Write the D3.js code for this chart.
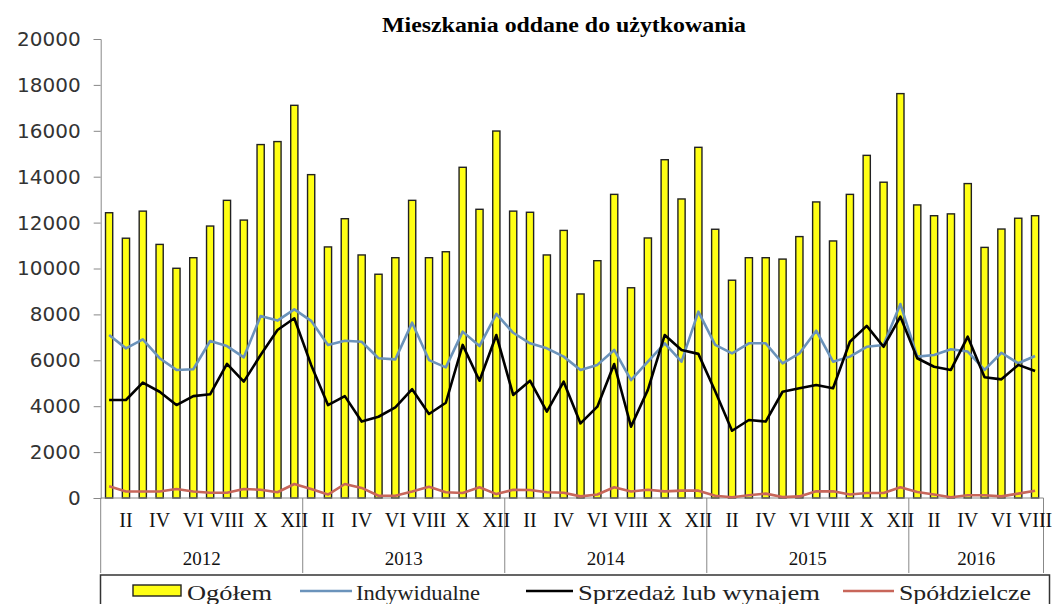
<!DOCTYPE html>
<html>
<head>
<meta charset="utf-8">
<script src="https://cdn.jsdelivr.net/npm/d3@7"></script>
<style>
  body { margin: 0; background: #fff; }
  svg { display: block; }
</style>
</head>
<body>
<div id="chart"></div>
<script>
// Data (monthly, I 2012 - VIII 2016)
const years = ["2012", "2013", "2014", "2015", "2016"];
const monthsPerYear = [12, 12, 12, 12, 8];
const romans = ["I", "II", "III", "IV", "V", "VI", "VII", "VIII", "IX", "X", "XI", "XII"];
const yTicks = [0, 2000, 4000, 6000, 8000, 10000, 12000, 14000, 16000, 18000, 20000];

const ogolem = [
    12430, 11320, 12500, 11050, 10010, 10470, 11850, 12970, 12110, 15400, 15530, 17110,
    14090, 10940, 12170, 10590, 9750, 10470, 12970, 10470, 10730, 14410, 12580, 15990,
    12500, 12450, 10590, 11660, 8890, 10340, 13230, 9160, 11330, 14740, 13030, 15280,
    11710, 9490, 10470, 10470, 10410, 11390, 12900, 11200, 13230, 14930, 13760, 17620,
    12770, 12300, 12380, 13700, 10920, 11720, 12190, 12300
];
const indywidualne = [
    7100, 6520, 6910, 6090, 5580, 5610, 6840, 6620, 6130, 7930, 7730, 8220,
    7720, 6670, 6850, 6810, 6090, 6040, 7640, 6010, 5690, 7250, 6620, 8020,
    7200, 6740, 6520, 6160, 5580, 5800, 6450, 5140, 5940, 6740, 5940, 8120,
    6670, 6300, 6740, 6740, 5870, 6300, 7290, 5940, 6160, 6590, 6670, 8450,
    6160, 6230, 6480, 6380, 5580, 6330, 5870, 6190
];
const sprzedaz = [
    4270, 4270, 5030, 4630, 4050, 4440, 4520, 5840, 5070, 6230, 7320, 7830,
    5800, 4050, 4440, 3330, 3540, 3950, 4740, 3660, 4150, 6670, 5110, 7100,
    4490, 5110, 3760, 5070, 3250, 3980, 5840, 3110, 4710, 7100, 6450, 6280,
    4650, 2930, 3400, 3330, 4630, 4780, 4920, 4780, 6810, 7500, 6590, 7900,
    6090, 5720, 5580, 7030, 5260, 5170, 5800, 5530
];
const spoldzielcze = [
    510, 280, 280, 280, 390, 280, 230, 230, 390, 360, 250, 610,
    390, 150, 610, 440, 100, 100, 280, 490, 250, 220, 470, 170,
    360, 350, 250, 230, 70, 150, 470, 280, 360, 290, 320, 320,
    100, 30, 120, 190, 40, 70, 290, 290, 150, 220, 220, 470,
    260, 150, 30, 120, 120, 70, 190, 320
];

const width = 1053, height = 604;
const margin = {top: 39, right: 9.5, bottom: 106, left: 100.7};

// month table
const months = [];
years.forEach((y, yi) => {
    for (let m = 0; m < monthsPerYear[yi]; m++) {
        months.push({year: y, m: m, label: romans[m]});
    }
});

const svg = d3.select("#chart")
    .append("svg")
    .attr("width", width)
    .attr("height", height);

const xScale = d3.scaleBand()
    .domain(d3.range(months.length))
    .range([margin.left, width - margin.right]);

const yScale = d3.scaleLinear()
    .domain([0, 20000])
    .range([height - margin.bottom, margin.top]);

const y0 = yScale(0);
const bw = xScale.bandwidth();

// Title
svg.append("text")
    .attr("x", 564)
    .attr("y", 32)
    .attr("text-anchor", "middle")
    .attr("font-family", "Liberation Serif, Times New Roman, serif")
    .attr("font-weight", "bold")
    .attr("font-size", 20)
    .attr("textLength", 364)
    .attr("lengthAdjust", "spacingAndGlyphs")
    .text("Mieszkania oddane do użytkowania");

// Y axis
const yAxis = d3.axisLeft(yScale).tickValues(yTicks).tickSize(7).tickPadding(13).tickFormat(d3.format("d"));
const gy = svg.append("g")
    .attr("transform", `translate(${margin.left},0)`)
    .call(yAxis);
gy.select(".domain").attr("stroke", "#888");
gy.selectAll(".tick line").attr("stroke", "#888");
gy.selectAll(".tick text")
    .attr("font-family", "DejaVu Sans, sans-serif")
    .attr("font-size", 20)
    .attr("fill", "#333");

// Bars
svg.append("g")
    .selectAll("rect")
    .data(ogolem)
    .join("rect")
    .attr("x", (d, i) => xScale(i) + bw / 2 - 3.6)
    .attr("width", 7.2)
    .attr("y", d => yScale(d))
    .attr("height", d => y0 - yScale(d))
    .attr("fill", "#ffff14")
    .attr("stroke", "#222")
    .attr("stroke-width", 1.4);

// Category axis
svg.append("line")
    .attr("x1", margin.left).attr("x2", width - margin.right)
    .attr("y1", y0).attr("y2", y0)
    .attr("stroke", "#888");

let start = 0;
const boundaries = [0];
years.forEach((y, yi) => {
    start += monthsPerYear[yi];
    boundaries.push(start);
});
svg.append("g")
    .selectAll("line")
    .data(boundaries)
    .join("line")
    .attr("x1", d => d < months.length ? xScale(d) : xScale.range()[1])
    .attr("x2", d => d < months.length ? xScale(d) : xScale.range()[1])
    .attr("y1", y0)
    .attr("y2", 573)
    .attr("stroke", "#888");

svg.append("g")
    .selectAll("text")
    .data(months.filter(d => d.m % 2 === 1))
    .join("text")
    .attr("x", d => xScale(months.indexOf(d)) + bw / 2)
    .attr("y", 527)
    .attr("text-anchor", "middle")
    .attr("font-family", "Liberation Serif, Times New Roman, serif")
    .attr("font-size", 20)
    .attr("fill", "#111")
    .text(d => d.label);

svg.append("g")
    .selectAll("text")
    .data(years)
    .join("text")
    .attr("x", (d, i) => {
        const a = xScale(boundaries[i]);
        const b = boundaries[i + 1] < months.length ? xScale(boundaries[i + 1]) : xScale.range()[1];
        return (a + b) / 2;
    })
    .attr("y", 565)
    .attr("text-anchor", "middle")
    .attr("font-family", "Liberation Serif, Times New Roman, serif")
    .attr("font-size", 19)
    .attr("fill", "#111")
    .text(d => d);

// Lines
const line = d3.line()
    .x((d, i) => xScale(i) + bw / 2)
    .y(d => yScale(d));

const series = [
    {name: "Indywidualne", values: indywidualne, color: "#6b93bb"},
    {name: "Sprzedaż lub wynajem", values: sprzedaz, color: "#000000"},
    {name: "Spółdzielcze", values: spoldzielcze, color: "#c8665a"}
];

series.forEach(s => {
    svg.append("path")
        .datum(s.values)
        .attr("fill", "none")
        .attr("stroke", s.color)
        .attr("stroke-width", 2.6)
        .attr("stroke-linejoin", "round")
        .attr("d", line);
});

// Legend
svg.append("rect")
    .attr("x", 100.5).attr("y", 575)
    .attr("width", 949).attr("height", 40)
    .attr("fill", "#fff")
    .attr("stroke", "#333")
    .attr("stroke-width", 1.5);

const legendY = 591;
svg.append("rect")
    .attr("x", 133).attr("y", 585)
    .attr("width", 48).attr("height", 11)
    .attr("fill", "#ffff14")
    .attr("stroke", "#222")
    .attr("stroke-width", 1.4);

const legendItems = [
    {text: "Ogółem", x: 187, len: 85},
    {text: "Indywidualne", x: 356, len: 124, line: [300, 352], color: "#6b93bb"},
    {text: "Sprzedaż lub wynajem", x: 578, len: 242, line: [526, 573], color: "#000000"},
    {text: "Spółdzielcze", x: 899, len: 132, line: [843, 894], color: "#c8665a"}
];

legendItems.forEach(it => {
    if (it.line) {
        svg.append("line")
            .attr("x1", it.line[0]).attr("x2", it.line[1])
            .attr("y1", legendY).attr("y2", legendY)
            .attr("stroke", it.color)
            .attr("stroke-width", 2.6);
    }
    svg.append("text")
        .attr("x", it.x)
        .attr("y", 600)
        .attr("font-family", "Liberation Serif, Times New Roman, serif")
        .attr("font-size", 22)
        .attr("fill", "#222")
        .attr("textLength", it.len)
        .attr("lengthAdjust", "spacingAndGlyphs")
        .text(it.text);
});
</script>
</body>
</html>
